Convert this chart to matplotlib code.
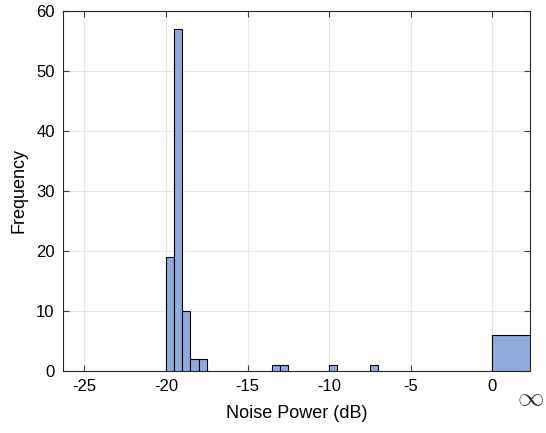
import numpy as np
import matplotlib
matplotlib.use('Agg')
import matplotlib.pyplot as plt

# histogram bins (left edge, width in dB) and counts
bin_left = [-20.0, -19.5, -19.0, -18.5, -18.0, -13.5, -13.0, -10.0, -7.5, 0.0]
bin_width = [0.5, 0.5, 0.5, 0.5, 0.5, 0.5, 0.5, 0.5, 0.5, 2.3]
counts = [19, 57, 10, 2, 2, 1, 1, 1, 1, 6]

x_ticks = [-25, -20, -15, -10, -5, 0]
y_ticks = [0, 10, 20, 30, 40, 50, 60]

plt.rcParams['font.family'] = ['Liberation Sans', 'DejaVu Sans']
plt.rcParams['mathtext.fontset'] = 'cm'
plt.rcParams['axes.unicode_minus'] = False

fig = plt.figure(figsize=(5.46, 4.33), dpi=100)
ax = fig.add_axes([0.1154, 0.1432, 0.8553, 0.8314])

ax.bar(bin_left, counts, width=bin_width, align='edge',
       color='#8FAADC', edgecolor='black', linewidth=0.8, zorder=3)

ax.set_xlim(-26.3, 2.3)
ax.set_ylim(0, 60)
ax.set_xticks(x_ticks)
ax.set_yticks(y_ticks)
ax.grid(True, color='#e6e6e6', linewidth=0.8, zorder=0)
ax.set_axisbelow(True)

ax.tick_params(direction='in', length=4, width=0.8, color='#404040',
               labelsize=12, top=True, right=True, pad=6, labelcolor='black')
for sp in ax.spines.values():
    sp.set_color('#262626')
    sp.set_linewidth(0.8)

# infinity marker under the right end of the x axis
ax.text(2.3, -0.075, r'$\infty$', transform=ax.get_xaxis_transform(),
        ha='center', va='center', fontsize=19, color='#333333')

ax.set_xlabel('Noise Power (dB)', fontsize=13, labelpad=8)
ax.set_ylabel('Frequency', fontsize=13, labelpad=6)

fig.savefig('out.png', dpi=100)
